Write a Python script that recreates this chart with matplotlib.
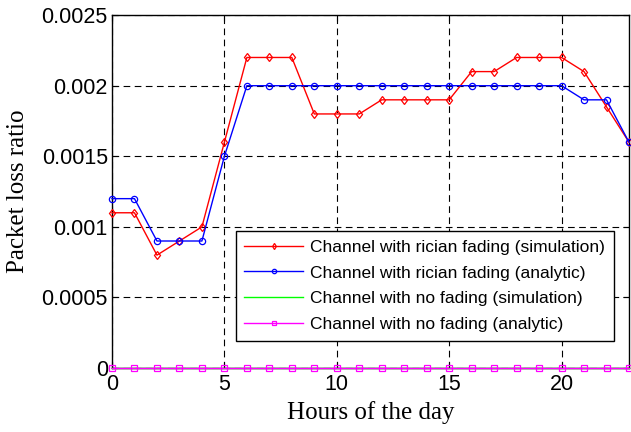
import matplotlib
matplotlib.use("Agg")
import matplotlib.pyplot as plt
import numpy as np

hours = list(range(24))
rician_sim = [0.0011, 0.0011, 0.0008, 0.0009, 0.0010, 0.0016, 0.0022, 0.0022,
              0.0022, 0.0018, 0.0018, 0.0018, 0.0019, 0.0019, 0.0019, 0.0019,
              0.0021, 0.0021, 0.0022, 0.0022, 0.0022, 0.0021, 0.00185, 0.0016]
rician_ana = [0.0012, 0.0012, 0.0009, 0.0009, 0.0009, 0.0015, 0.0020, 0.0020,
              0.0020, 0.0020, 0.0020, 0.0020, 0.0020, 0.0020, 0.0020, 0.0020,
              0.0020, 0.0020, 0.0020, 0.0020, 0.0020, 0.0019, 0.0019, 0.0016]
nofade_sim = [0.0] * 24
nofade_ana = [0.0] * 24

x_ticks = [0, 5, 10, 15, 20]
y_ticks = [0, 0.0005, 0.001, 0.0015, 0.002, 0.0025]
y_ticklabels = ["0", "0.0005", "0.001", "0.0015", "0.002", "0.0025"]

fig = plt.figure(figsize=(6.31, 4.32), dpi=100)
ax = fig.add_axes([0.1775, 0.148, 0.8193, 0.817])

# lines sit above the spines, as in the MATLAB export
ax.plot(hours, rician_sim, color="red", lw=1.0, marker="d", ms=4.5, mfc="none",
        mew=0.9, clip_on=False, zorder=3,
        label="Channel with rician fading (simulation)")
ax.plot(hours, rician_ana, color="blue", lw=1.0, marker="o", ms=4.5, mfc="none",
        mew=0.9, clip_on=False, zorder=3,
        label="Channel with rician fading (analytic)")
ax.plot(hours, nofade_sim, color="#00ff00", lw=1.0, clip_on=False, zorder=3,
        label="Channel with no fading (simulation)")
ax.plot(hours, nofade_ana, color="magenta", lw=1.0, marker="s", ms=4.5, mfc="none",
        mew=0.9, clip_on=False, zorder=3,
        label="Channel with no fading (analytic)")

ax.set_xlim(0, 23)
ax.set_ylim(0, 0.0025)
ax.set_xticks(x_ticks)
ax.set_yticks(y_ticks)
ax.set_yticklabels(y_ticklabels)
ax.tick_params(direction="in", top=True, right=True, labelsize=15.5, length=4)
ax.tick_params(axis="x", pad=4.5)
ax.tick_params(axis="y", pad=3)
for lab in ax.get_xticklabels() + ax.get_yticklabels():
    lab.set_family("Liberation Sans")
ax.grid(True, color="black", linestyle=(0, (6, 4)), lw=0.8)
for sp in ax.spines.values():
    sp.set_linewidth(1.0)

ax.set_xlabel("Hours of the day", family="Liberation Serif", fontsize=18, labelpad=4)
ax.set_ylabel("Packet loss ratio", family="Liberation Serif", fontsize=18, labelpad=9)

leg = ax.legend(loc="lower right", bbox_to_anchor=(0.971, 0.0765),
                prop={"family": "Liberation Sans", "size": 12.5},
                fancybox=False, framealpha=1, edgecolor="black",
                borderpad=0.5, borderaxespad=0, labelspacing=0.62,
                handlelength=3.4, handletextpad=0.4, markerscale=0.7)
leg.get_frame().set_linewidth(1.0)
leg.set_zorder(5)

fig.savefig("out.png", dpi=100)
